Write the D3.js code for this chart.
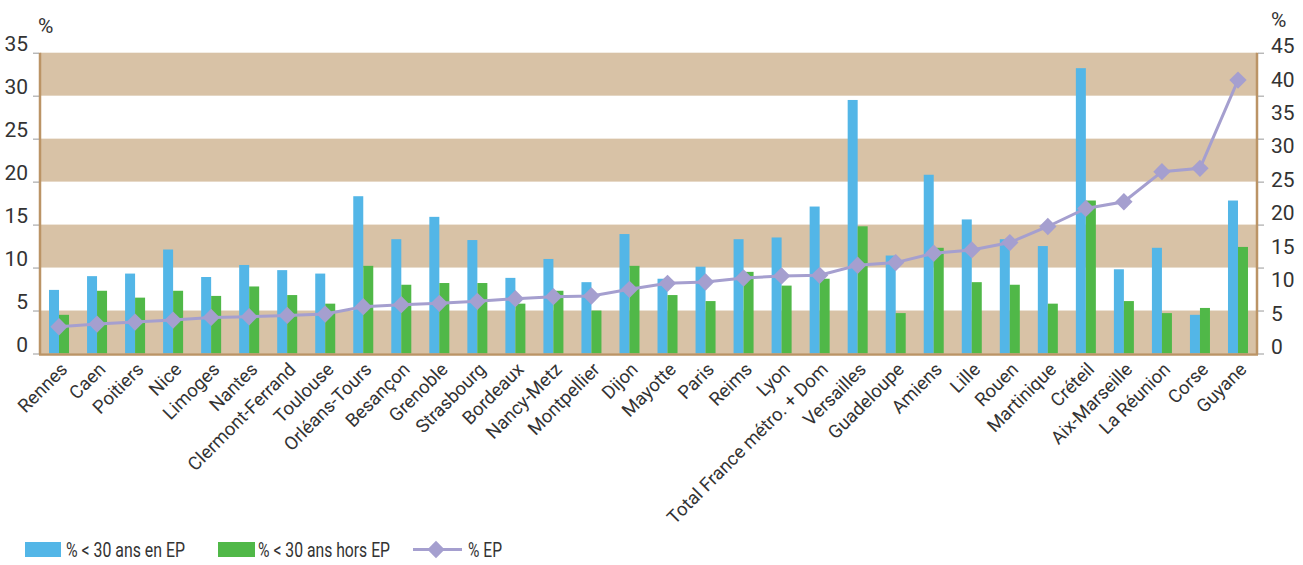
<!DOCTYPE html>
<html><head><meta charset="utf-8">
<script src="https://cdn.jsdelivr.net/npm/d3@7"></script>
<style>
body{margin:0;background:#fff;}
svg text{font-family:"Roboto","Liberation Sans",sans-serif;fill:#333;}
</style></head><body>
<svg id="c" width="1303" height="565"></svg>
<script>
const categories=["Rennes","Caen","Poitiers","Nice","Limoges","Nantes","Clermont-Ferrand","Toulouse","Orléans-Tours","Besançon","Grenoble","Strasbourg","Bordeaux","Nancy-Metz","Montpellier","Dijon","Mayotte","Paris","Reims","Lyon","Total France métro. + Dom","Versailles","Guadeloupe","Amiens","Lille","Rouen","Martinique","Créteil","Aix-Marseille","La Réunion","Corse","Guyane"];
const under30EP=[7.4,9.0,9.3,12.1,8.9,10.3,9.7,9.3,18.3,13.3,15.9,13.2,8.8,11.0,8.3,13.9,8.7,10.1,13.3,13.5,17.1,29.5,11.4,20.8,15.6,13.3,12.5,33.2,9.8,12.3,4.5,17.8];
const under30HorsEP=[4.5,7.3,6.5,7.3,6.7,7.8,6.8,5.8,10.2,8.0,8.2,8.2,5.8,7.3,5.0,10.2,6.8,6.1,9.5,7.9,8.7,14.8,4.7,12.3,8.3,8.0,5.8,17.8,6.1,4.7,5.3,12.4];
const pctEP=[4.0,4.4,4.7,5.0,5.4,5.5,5.7,5.9,7.0,7.3,7.5,7.8,8.2,8.5,8.6,9.6,10.5,10.7,11.3,11.6,11.7,13.2,13.6,15.0,15.5,16.6,19.0,21.7,22.7,27.2,27.7,40.9];
const leftTicks=[0,5,10,15,20,25,30,35];
const rightTicks=[0,5,10,15,20,25,30,35,40,45];
const legendLabels=["% < 30 ans en EP","% < 30 ans hors EP","% EP"];

const C={blue:"#53b6e7",green:"#50b848",purple:"#a59fcf",tan:"#d8c2a6",axis:"#bb9466"};
const m={l:40,r:1257,t:52.7,b:353.5};
const svg=d3.select("#c");
const x=d3.scaleBand().domain(categories).range([m.l,m.r]);
const yL=d3.scaleLinear().domain([0,35]).range([m.b,m.t]);
const yR=d3.scaleLinear().domain([0,45]).range([m.b,m.t]);

// bands
const bands=[[0,5],[10,15],[20,25],[30,35]];
svg.append("g").selectAll("rect").data(bands).join("rect")
 .attr("x",m.l).attr("width",m.r-m.l)
 .attr("y",d=>yL(d[1])).attr("height",d=>yL(d[0])-yL(d[1])).attr("fill",C.tan);

const bw=10;
const g=svg.append("g");
g.selectAll(".b").data(categories).join("rect")
 .attr("x",d=>x(d)+x.bandwidth()/2-bw).attr("width",bw)
 .attr("y",(d,i)=>yL(under30EP[i])).attr("height",(d,i)=>yL(0)-yL(under30EP[i])).attr("fill",C.blue);
g.selectAll(".g").data(categories).join("rect")
 .attr("x",d=>x(d)+x.bandwidth()/2).attr("width",bw)
 .attr("y",(d,i)=>yL(under30HorsEP[i])).attr("height",(d,i)=>yL(0)-yL(under30HorsEP[i])).attr("fill",C.green);

// axes lines
svg.append("line").attr("x1",m.l).attr("x2",m.l).attr("y1",m.t).attr("y2",m.b+1).attr("stroke",C.axis).attr("stroke-width",2.5);
svg.append("line").attr("x1",m.r).attr("x2",m.r).attr("y1",m.t).attr("y2",m.b+1).attr("stroke",C.axis).attr("stroke-width",2.5);
svg.append("line").attr("x1",m.l-1).attr("x2",m.r+1).attr("y1",m.b+1).attr("y2",m.b+1).attr("stroke",C.axis).attr("stroke-width",2.5);

// left axis
const la=svg.append("g").attr("transform",`translate(${m.l-1},0)`)
 .call(d3.axisLeft(yL).tickValues(leftTicks).tickSize(6).tickPadding(5));
la.attr("font-family",null);
la.select(".domain").remove();
la.selectAll(".tick line").attr("stroke","#999");
la.selectAll(".tick text").attr("font-size",21).attr("dy","-0.1em");
// right axis: tick marks follow the left gridlines, labels follow the right scale
const rm=svg.append("g").attr("transform",`translate(${m.r+1},0)`)
 .call(d3.axisRight(yL).tickValues(leftTicks).tickSize(6).tickFormat(""));
rm.select(".domain").remove();
rm.selectAll(".tick line").attr("stroke","#999");
const ra=svg.append("g").attr("transform",`translate(${m.r+1},0)`)
 .call(d3.axisRight(yR).tickValues(rightTicks).tickSize(0).tickPadding(13));
ra.attr("font-family",null);
ra.select(".domain").remove();
ra.selectAll(".tick text").attr("font-size",21).attr("dy","0em");

svg.append("text").attr("x",38).attr("y",33).attr("font-size",21).text("%");
svg.append("text").attr("x",1271).attr("y",27).attr("font-size",21).text("%");

// category labels
svg.append("g").selectAll("text").data(categories).join("text")
 .attr("transform",d=>`translate(${x(d)+x.bandwidth()/2+5},${366}) rotate(-45)`)
 .attr("text-anchor","end").attr("dy","0.35em").attr("font-size",18.5).text(d=>d);

// EP line
const cx=d=>x(d)+x.bandwidth()/2;
svg.append("path").datum(categories)
 .attr("d",d3.line().x(cx).y((d,i)=>yR(pctEP[i])))
 .attr("fill","none").attr("stroke",C.purple).attr("stroke-width",3);
svg.append("g").selectAll("path").data(categories).join("path")
 .attr("d",d3.symbol().type(d3.symbolSquare).size(150))
 .attr("transform",(d,i)=>`translate(${cx(d)},${yR(pctEP[i])}) rotate(45)`)
 .attr("fill",C.purple);

// legend
const lg=svg.append("g");
lg.append("rect").attr("x",25).attr("y",542).attr("width",36).attr("height",15).attr("fill",C.blue);
lg.append("text").attr("x",66).attr("y",557).attr("font-size",21).attr("textLength",119).attr("lengthAdjust","spacingAndGlyphs").text(legendLabels[0]);
lg.append("rect").attr("x",218).attr("y",542).attr("width",37).attr("height",15).attr("fill",C.green);
lg.append("text").attr("x",258).attr("y",557).attr("font-size",21).attr("textLength",132).attr("lengthAdjust","spacingAndGlyphs").text(legendLabels[1]);
lg.append("line").attr("x1",413).attr("x2",462).attr("y1",549.5).attr("y2",549.5).attr("stroke",C.purple).attr("stroke-width",3);
lg.append("path").attr("d",d3.symbol().type(d3.symbolSquare).size(150)).attr("transform","translate(436,549.5) rotate(45)").attr("fill",C.purple);
lg.append("text").attr("x",468).attr("y",557).attr("font-size",21).attr("textLength",34).attr("lengthAdjust","spacingAndGlyphs").text(legendLabels[2]);
</script></body></html>
